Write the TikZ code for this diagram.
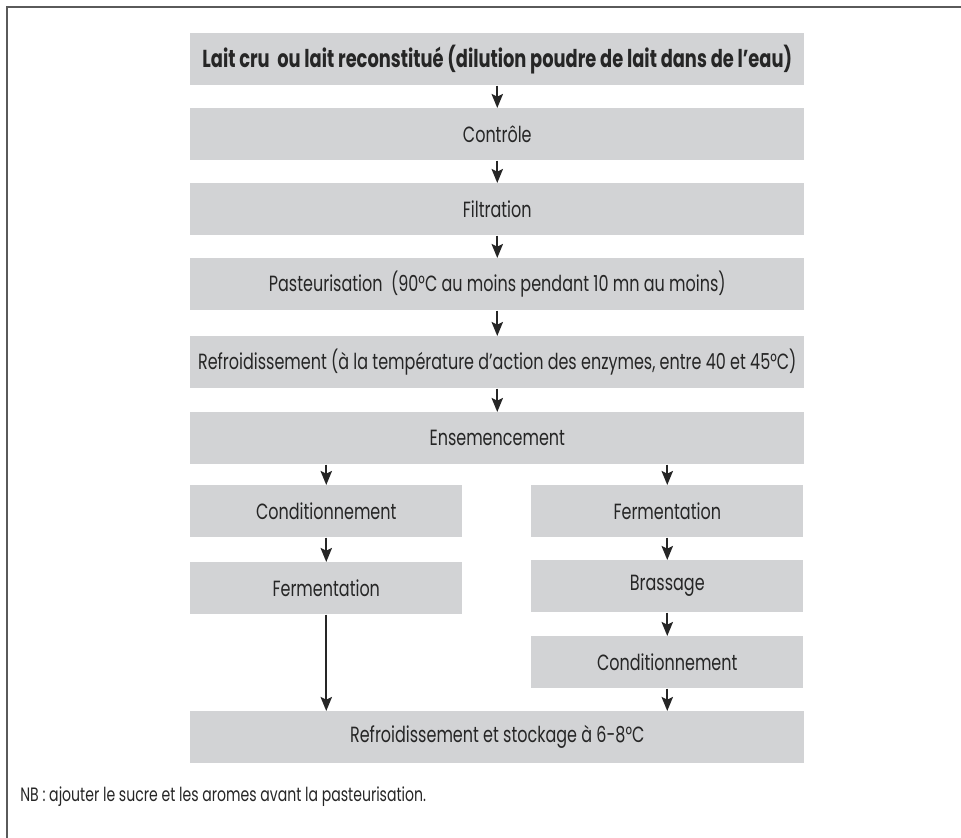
\documentclass[tikz,border=0pt]{standalone}
\usepackage{fontspec}
\setmainfont[FakeStretch=0.727]{Poppins}
\usepackage{xcolor}
\usetikzlibrary{arrows.meta}

\definecolor{boxgray}{HTML}{D2D3D5}
\definecolor{framegray}{HTML}{5A5A5A}

\begin{document}
\begin{tikzpicture}[x=0.75pt,y=-0.75pt,
    etape/.style={fill=boxgray, anchor=north west, inner sep=0pt,
      minimum height=39pt, font=\fontsize{16.5}{18}\selectfont, text=black!85},
    large/.style={etape, minimum width=460.5pt},
    demi/.style={etape, minimum width=204pt},
    fleche/.style={-{Stealth[length=10.5pt,width=8.5pt,inset=2pt]}, line width=1.6pt, black!85}]
    \useasboundingbox (0,0) rectangle (961,838);

    % Frame
    \draw[framegray, line width=1.5pt] (961,7) -- (7,7) -- (7,838);

    % Main column
    \node[large, font=\fontsize{18.4}{20}\selectfont\bfseries] (lait) at (190,33)
      {Lait cru\ \ ou lait reconstitué (dilution poudre de lait dans de l’eau)};
    \node[large] (controle) at (190,108) {Contrôle};
    \node[large] (filtration) at (190,183) {Filtration};
    \node[large] (pasteur) at (190,258) {Pasteurisation\ \ (90°C au moins pendant 10 mn au moins)};
    \node[large] (refroid) at (190,336) {Refroidissement (à la température d’action des enzymes, entre 40 et 45°C)};
    \node[large] (ensem) at (190,412) {Ensemencement};

    % Left branch
    \node[demi] (condG) at (190,485) {Conditionnement};
    \node[demi] (fermG) at (190,562) {Fermentation};

    % Right branch
    \node[demi] (fermD) at (531,485) {Fermentation};
    \node[demi] (brassage) at (531,560) {Brassage};
    \node[demi] (condD) at (531,636) {Conditionnement};

    % Final step
    \node[large] (stockage) at (190,711) {Refroidissement et stockage à 6-8°C};

    % Arrows
    \draw[fleche] (lait) -- (controle);
    \draw[fleche] (controle) -- (filtration);
    \draw[fleche] (filtration) -- (pasteur);
    \draw[fleche] (pasteur) -- (refroid);
    \draw[fleche] (refroid) -- (ensem);
    \draw[fleche] (ensem.south -| condG) -- (condG);
    \draw[fleche] (ensem.south -| fermD) -- (fermD);
    \draw[fleche] (condG) -- (fermG);
    \draw[fleche] (fermD) -- (brassage);
    \draw[fleche] (brassage) -- (condD);
    \draw[fleche] (fermG) -- (fermG |- stockage.north);
    \draw[fleche] (condD) -- (condD |- stockage.north);

    % Note
    \node[anchor=west, inner sep=0pt, font=\fontsize{14.5}{16}\selectfont, text=black!85] (nb) at (20,797)
      {NB : ajouter le sucre et les aromes avant la pasteurisation.};
\end{tikzpicture}
\end{document}
